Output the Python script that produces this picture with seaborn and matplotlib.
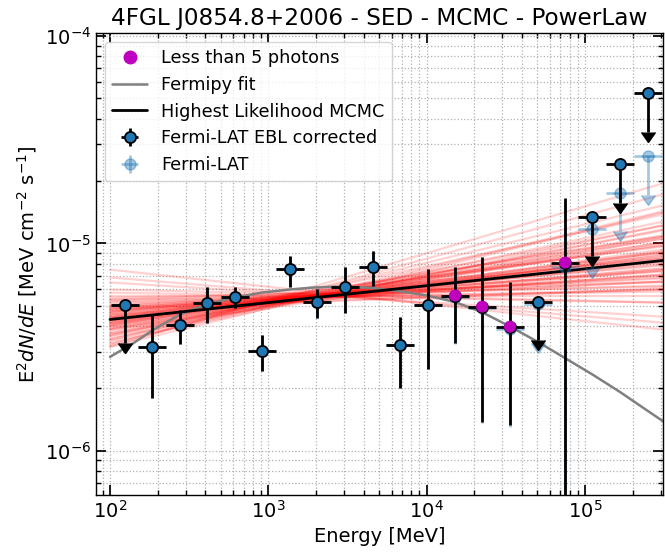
import numpy as np
import pandas as pd
import matplotlib
matplotlib.use("Agg")
import matplotlib.pyplot as plt
from matplotlib.lines import Line2D
import seaborn as sns

# ---------------- data ----------------
energy = [124, 184, 277, 410, 616, 912, 1371, 2030, 3050, 4585, 6790, 10200,
          15100, 22400, 33600, 50500, 74900, 111000, 167000, 250000]
energy_min = [101, 151, 227, 335, 504, 746, 1121, 1660, 2495, 3750, 5554, 8344,
              12352, 18323, 27485, 41309, 61268, 90798, 136606, 204500]
energy_max = [152, 225, 338, 501, 753, 1114, 1675, 2481, 3727, 5603, 8297, 12464,
              18452, 27373, 41059, 61711, 91528, 135642, 204074, 305500]

# EBL corrected SED
flux_ebl = [5.07e-6, 3.18e-6, 4.06e-6, 5.19e-6, 5.55e-6, 3.04e-6, 7.57e-6, 5.25e-6,
            6.20e-6, 7.74e-6, 3.25e-6, 5.07e-6, 5.61e-6, 4.96e-6, 3.97e-6, 5.25e-6,
            8.09e-6, 1.335e-5, 2.41e-5, 5.30e-5]
flux_ebl_low = [5.07e-6, 1.80e-6, 3.29e-6, 4.15e-6, 4.91e-6, 2.43e-6, 6.20e-6, 4.39e-6,
                4.64e-6, 6.27e-6, 2.01e-6, 2.49e-6, 3.32e-6, 1.38e-6, 1.335e-6, 5.25e-6,
                1e-9, 1.335e-5, 2.41e-5, 5.30e-5]
flux_ebl_high = [5.07e-6, 4.54e-6, 4.80e-6, 6.20e-6, 6.20e-6, 3.63e-6, 8.75e-6, 6.06e-6,
                 7.74e-6, 9.15e-6, 4.44e-6, 7.57e-6, 7.74e-6, 8.56e-6, 6.55e-6, 5.25e-6,
                 1.65e-5, 1.335e-5, 2.41e-5, 5.30e-5]

# Fermi-LAT (not EBL corrected)
flux_lat = [5.07e-6, 3.18e-6, 4.06e-6, 5.19e-6, 5.55e-6, 3.04e-6, 7.57e-6, 5.25e-6,
            6.20e-6, 7.74e-6, 3.25e-6, 5.05e-6, 5.55e-6, 4.88e-6, 3.88e-6, 5.10e-6,
            7.74e-6, 1.17e-5, 1.76e-5, 2.63e-5]
flux_lat_low = [5.07e-6, 1.80e-6, 3.29e-6, 4.15e-6, 4.91e-6, 2.43e-6, 6.20e-6, 4.39e-6,
                4.64e-6, 6.27e-6, 2.01e-6, 2.48e-6, 3.28e-6, 1.36e-6, 1.30e-6, 5.10e-6,
                1e-9, 1.17e-5, 1.76e-5, 2.63e-5]
flux_lat_high = [5.07e-6, 4.54e-6, 4.80e-6, 6.20e-6, 6.20e-6, 3.63e-6, 8.75e-6, 6.06e-6,
                 7.74e-6, 9.15e-6, 4.44e-6, 7.54e-6, 7.66e-6, 8.42e-6, 6.40e-6, 5.10e-6,
                 1.58e-5, 1.17e-5, 1.76e-5, 2.63e-5]

upper_limit = [True, False, False, False, False, False, False, False, False, False,
               False, False, False, False, False, True, False, True, True, True]
few_photons = [False, False, False, False, False, False, False, False, False, False,
               False, False, True, True, True, False, True, False, False, False]

# Fermipy fit curve
fit_energy = [100, 140, 184, 230, 277, 340, 410, 500, 616, 912, 1371, 1850, 2450, 3300,
              4585, 6790, 10200, 15100, 22400, 33600, 50500, 74900, 111000, 167000,
              226000, 311000]
fit_flux = [2.84e-6, 3.30e-6, 3.80e-6, 4.20e-6, 4.54e-6, 4.84e-6, 5.07e-6, 5.30e-6,
            5.48e-6, 5.80e-6, 6.00e-6, 6.12e-6, 6.18e-6, 6.18e-6, 6.10e-6, 5.88e-6,
            5.60e-6, 5.22e-6, 4.66e-6, 3.98e-6, 3.35e-6, 2.80e-6, 2.34e-6, 1.92e-6,
            1.64e-6, 1.39e-6]

# Highest-likelihood MCMC power law (end points)
best_energy = [100, 311000]
best_flux = [4.30e-6, 8.28e-6]

# MCMC sample power laws: log10 flux at 100 MeV and at 3.11e5 MeV
mcmc_energy = [100, 311000]
mcmc_log_start = [-5.126, -5.164, -5.188, -5.222, -5.237, -5.251, -5.261, -5.271, -5.280, -5.285,
                  -5.295, -5.300, -5.304, -5.309, -5.314, -5.319, -5.324, -5.329, -5.333, -5.338,
                  -5.343, -5.348, -5.353, -5.357, -5.362, -5.367, -5.372, -5.377, -5.382, -5.386,
                  -5.391, -5.396, -5.401, -5.406, -5.411, -5.415, -5.425, -5.435, -5.444, -5.454,
                  -5.464, -5.473, -5.483, -5.498, -5.444, -5.464, -5.488, -5.498, -5.329, -5.357,
                  -5.309, -5.377, -5.343, -5.396, -5.271, -5.415, -5.357, -5.319, -5.435, -5.386]
mcmc_log_end = [-5.415, -5.382, -5.353, -5.285, -5.285, -5.251, -5.208, -5.232, -5.203, -5.222,
                -5.169, -5.184, -5.164, -5.184, -5.135, -5.155, -5.130, -5.150, -5.106, -5.121,
                -5.101, -5.121, -5.072, -5.092, -5.068, -5.087, -5.043, -5.058, -5.039, -5.058,
                -4.995, -5.029, -5.005, -5.039, -4.976, -4.995, -4.966, -4.976, -4.937, -4.932,
                -4.894, -4.913, -4.845, -4.850, -4.860, -4.816, -4.763, -4.710, -5.072, -5.130,
                -5.222, -5.010, -5.150, -4.961, -5.184, -5.048, -5.014, -5.217, -4.913, -4.966]

title = "4FGL J0854.8+2006 - SED - MCMC - PowerLaw"
xlabel = "Energy [MeV]"
ylabel = r"E$^2$$dN/dE$ [MeV cm$^{-2}$ s$^{-1}$]"

# ---------------- style ----------------
sns.set_theme(style="ticks")
plt.rcParams.update({
    "font.family": ["DejaVu Sans"],
    "text.color": "black", "axes.labelcolor": "black",
    "axes.edgecolor": "black",
    "xtick.color": "black", "ytick.color": "black",
    "xtick.direction": "in", "ytick.direction": "in",
    "xtick.top": True, "ytick.right": True,
    "xtick.minor.visible": True, "ytick.minor.visible": True,
    "xtick.major.size": 7, "ytick.major.size": 7,
    "xtick.minor.size": 3.5, "ytick.minor.size": 3.5,
    "xtick.labelsize": 14, "ytick.labelsize": 14,
    "axes.linewidth": 1.0,
})

fig = plt.figure(figsize=(6.65, 5.54), dpi=100)
ax = fig.add_axes([0.1444, 0.1065, 0.8526, 0.8339])
ax.set_xscale("log")
ax.set_yscale("log")

# MCMC sample lines
rows = []
for i, (a, b) in enumerate(zip(mcmc_log_start, mcmc_log_end)):
    rows.append({"sample": i, "E": mcmc_energy[0], "flux": 10 ** a})
    rows.append({"sample": i, "E": mcmc_energy[1], "flux": 10 ** b})
df_mcmc = pd.DataFrame(rows)
sns.lineplot(data=df_mcmc, x="E", y="flux", units="sample", estimator=None,
             color="red", alpha=0.18, lw=1.6, legend=False, ax=ax, zorder=1)

# fit lines
sns.lineplot(x=fit_energy, y=fit_flux, color="gray", lw=1.8, ax=ax, zorder=2,
             sort=False)
sns.lineplot(x=best_energy, y=best_flux, color="black", lw=2.0, ax=ax, zorder=3,
             sort=False)

E = np.array(energy, float)
xerr = np.vstack([E - np.array(energy_min), np.array(energy_max) - E])
ul = np.array(upper_limit)
fp = np.array(few_photons)

light = "#1f77b4"
magenta = "#bf00bf"


def color_caps(container, col):
    for cap in container[1]:
        cap.set_markerfacecolor(col)
        cap.set_markeredgecolor(col)
        cap.set_color(col)


# Fermi-LAT (uncorrected) light points
fl = np.array(flux_lat)
yerr_l = np.vstack([fl - np.array(flux_lat_low), np.array(flux_lat_high) - fl])
h_lat = ax.errorbar(E, fl, xerr=xerr, yerr=yerr_l, fmt="o", color=light,
                    ecolor=light, elinewidth=2, ms=8, alpha=0.4, zorder=4)
c = ax.errorbar(E[ul], fl[ul], yerr=0.35 * fl[ul], uplims=True, fmt="none",
                ecolor=light, elinewidth=2, capsize=5, alpha=0.4, zorder=4)
color_caps(c, light)

# EBL corrected points
fe = np.array(flux_ebl)
yerr_e = np.vstack([fe - np.array(flux_ebl_low), np.array(flux_ebl_high) - fe])
h_ebl = ax.errorbar(E, fe, xerr=xerr, yerr=yerr_e, fmt="o", color="#1f77b4",
                    mec="black", mew=1.3, ecolor="black", elinewidth=2, ms=8,
                    zorder=5)
c = ax.errorbar(E[ul], fe[ul], yerr=0.35 * fe[ul], uplims=True, fmt="none",
                ecolor="black", elinewidth=2, capsize=5, zorder=5)
color_caps(c, "black")
sns.scatterplot(x=E[fp], y=fe[fp], color=magenta, s=75, edgecolor="none",
                ax=ax, zorder=6)

ax.set_xlim(81.6, 3.11e5)
ax.set_ylim(6.13e-7, 1.034e-4)
ax.grid(True, which="both", ls=":", color="#b0b0b0", lw=0.9)
ax.set_axisbelow(True)
ax.set_title(title, fontsize=16.7)
ax.set_xlabel(xlabel, fontsize=14)
ax.set_ylabel(ylabel, fontsize=14)

h_m = Line2D([], [], marker="o", color=magenta, ls="none", ms=9)
h_fit = Line2D([], [], color="gray", lw=1.8)
h_best = Line2D([], [], color="black", lw=2.0)
ax.legend(handles=[h_m, h_fit, h_best, h_ebl, h_lat],
          labels=["Less than 5 photons", "Fermipy fit", "Highest Likelihood MCMC",
                  "Fermi-LAT EBL corrected", "Fermi-LAT"],
          loc="upper left", fontsize=12.7, frameon=True)

fig.savefig("out.png", dpi=100)
